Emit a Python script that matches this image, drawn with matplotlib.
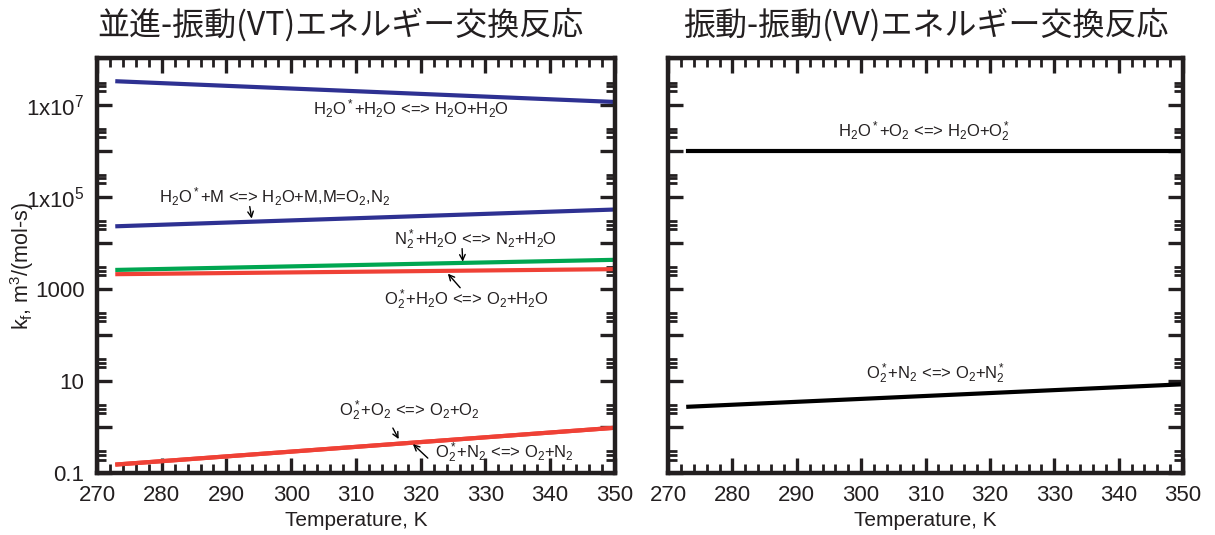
import matplotlib
matplotlib.use("Agg")
import matplotlib.pyplot as plt
from matplotlib.ticker import LogLocator, MultipleLocator, NullFormatter

plt.rcParams['font.family'] = ['Liberation Sans', 'Noto Sans CJK JP']
plt.rcParams['mathtext.fontset'] = 'custom'
plt.rcParams['mathtext.rm'] = 'Liberation Sans'
plt.rcParams['mathtext.it'] = 'Liberation Sans'
plt.rcParams['mathtext.default'] = 'regular'

# data (start / end of each line)
temps = [273.15, 350.0]

vt_h2o_h2o = [3.2e7, 1.14e7]
vt_h2o_m = [2.3e4, 5.3e4]
vt_n2_h2o = [2.6e3, 4.3e3]
vt_o2_h2o = [2.1e3, 2.7e3]
vt_o2_o2 = [0.157, 0.98]
vt_o2_n2 = [0.157, 0.98]

vv_h2o_o2 = [1.0e6, 1.0e6]
vv_o2_n2 = [2.8, 8.6]

titles = ['並進-振動(VT)エネルギー交換反応', '振動-振動(VV)エネルギー交換反応']
ytick_vals = [0.1, 1, 10, 100, 1000, 1e4, 1e5, 1e6, 1e7, 1e8]
ytick_labels = ['0.1', '', '10', '', '1000', '', '1x10$^5$', '', '1x10$^7$', '']
xticks = [270, 280, 290, 300, 310, 320, 330, 340, 350]

BLUE = '#2e3192'
GREEN = '#00a651'
RED = '#ef4136'
INK = '#231f20'

fig = plt.figure(figsize=(12.15, 5.35), dpi=100)
ax1 = fig.add_axes([0.0798, 0.1150, 0.4263, 0.7757])
ax2 = fig.add_axes([0.5498, 0.1150, 0.4239, 0.7757])


def style_axes(ax, show_ylabels):
	ax.set_yscale('log')
	ax.set_xlim(270, 350)
	ax.set_ylim(0.1, 1e8)
	ax.set_xticks(xticks)
	ax.set_xticklabels([str(t) for t in xticks])
	ax.xaxis.set_minor_locator(MultipleLocator(2))
	ax.set_yticks(ytick_vals)
	if show_ylabels:
		ax.set_yticklabels(ytick_labels)
	else:
		ax.set_yticklabels([''] * len(ytick_vals))
	ax.yaxis.set_minor_locator(LogLocator(base=10, subs=[2, 2.5, 3], numticks=30))
	ax.yaxis.set_minor_formatter(NullFormatter())
	ax.tick_params(which='both', direction='in', top=True, right=True, color=INK, labelcolor=INK)
	ax.tick_params(which='major', length=11, width=2.4, labelsize=16)
	ax.tick_params(axis='x', which='major', pad=8)
	ax.tick_params(axis='y', which='major', pad=9)
	ax.tick_params(which='minor', length=6.5, width=2.0)
	for s in ax.spines.values():
		s.set_linewidth(3.2)
		s.set_color(INK)
	ax.set_xlabel('Temperature, K', fontsize=15, labelpad=4, color=INK)


style_axes(ax1, True)
style_axes(ax2, False)

lw = 3.0
ax1.plot(temps, vt_h2o_h2o, color=BLUE, lw=lw)
ax1.plot(temps, vt_h2o_m, color=BLUE, lw=lw)
ax1.plot(temps, vt_n2_h2o, color=GREEN, lw=lw)
ax1.plot(temps, vt_o2_h2o, color=RED, lw=lw)
ax1.plot(temps, vt_o2_o2, color=RED, lw=lw)
ax1.plot(temps, vt_o2_n2, color=RED, lw=lw)

ax2.plot(temps, vv_h2o_o2, color='k', lw=lw)
ax2.plot(temps, vv_o2_n2, color='k', lw=lw)

fs = 12
arr = dict(arrowstyle='->', color='k', lw=1.0, mutation_scale=10, shrinkA=0, shrinkB=0)

ax1.text(318.5, 10**6.787, r'H$_2$O$^*$+H$_2$O <=> H$_2$O+H$_2$O', fontsize=fs, ha='center', va='baseline', color=INK)

ax1.text(297.5, 10**4.876, r'H$_2$O$^*$+M <=> H$_2$O+M,M=O$_2$,N$_2$', fontsize=fs, ha='center', va='baseline', color=INK)
ax1.annotate('', xy=(293.9, 10**4.528), xytext=(293.6, 10**4.789), arrowprops=arr)

ax1.text(328.5, 10**3.963, r'N$_2^*$+H$_2$O <=> N$_2$+H$_2$O', fontsize=fs, ha='center', va='baseline', color=INK)
ax1.annotate('', xy=(326.5, 10**3.593), xytext=(326.4, 10**3.876), arrowprops=arr)

ax1.text(327.0, 10**2.659, r'O$_2^*$+H$_2$O <=> O$_2$+H$_2$O', fontsize=fs, ha='center', va='baseline', color=INK)
ax1.annotate('', xy=(324.2, 10**3.333), xytext=(326.1, 10**3.028), arrowprops=arr)

ax1.text(318.2, 10**0.246, r'O$_2^*$+O$_2$ <=> O$_2$+O$_2$', fontsize=fs, ha='center', va='baseline', color=INK)
ax1.annotate('', xy=(316.6, 10**-0.254), xytext=(315.7, 10**-0.015), arrowprops=arr)

ax1.text(322.2, 10**-0.667, r'O$_2^*$+N$_2$ <=> O$_2$+N$_2$', fontsize=fs, ha='left', va='baseline', color=INK)
ax1.annotate('', xy=(318.8, 10**-0.363), xytext=(321.1, 10**-0.667), arrowprops=arr)

ax2.text(309.8, 10**6.289, r'H$_2$O$^*$+O$_2$ <=> H$_2$O+O$_2^*$', fontsize=fs, ha='center', va='baseline', color=INK)
ax2.text(311.5, 10**1.05, r'O$_2^*$+N$_2$ <=> O$_2$+N$_2^*$', fontsize=fs, ha='center', va='baseline', color=INK)

ax1.set_ylabel(r'k$_f$, m$^3$/(mol-s)', fontsize=15.5, color=INK)
ax1.yaxis.set_label_coords(-0.118, 0.5)

ax1.set_title(titles[0], fontsize=23, family=['Noto Sans CJK JP'], color=INK, pad=17, x=0.47)
ax2.set_title(titles[1], fontsize=23, family=['Noto Sans CJK JP'], color=INK, pad=17)

fig.savefig('out.png', dpi=100)
